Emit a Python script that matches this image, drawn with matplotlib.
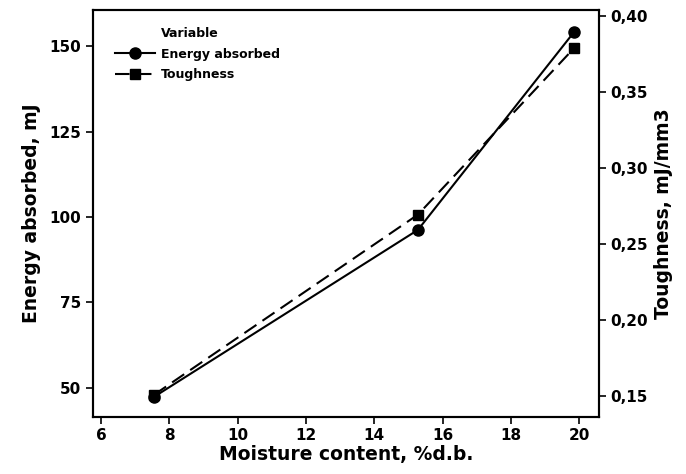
import matplotlib
matplotlib.use("Agg")
import matplotlib.pyplot as plt
from matplotlib.lines import Line2D

# datos
humedad = [7.55, 15.28, 19.85]
energia = [47.3, 96.2, 154.1]
tenacidad = [0.1507, 0.2693, 0.3788]

xticks = [6, 8, 10, 12, 14, 16, 18, 20]
yticks_izq = [50, 75, 100, 125, 150]
yticks_der = [0.15, 0.20, 0.25, 0.30, 0.35, 0.40]
etiquetas_der = ["0,15", "0,20", "0,25", "0,30", "0,35", "0,40"]

plt.rcParams['font.family'] = ['DejaVu Sans']
plt.rcParams['font.weight'] = 'bold'

fig = plt.figure(figsize=(6.86, 4.74), dpi=100)
ax = fig.add_axes([0.136, 0.121, 0.737, 0.858])
ax2 = ax.twinx()

l1, = ax.plot(humedad, energia, color='black', lw=1.5, marker='o', ms=8)
l2, = ax2.plot(humedad, tenacidad, color='black', lw=1.5, marker='s', ms=7,
               dashes=(7, 3.5))

ax.set_xlim(5.77, 20.58)
ax.set_ylim(41.5, 160.6)
ax2.set_ylim(0.1363, 0.404)

ax.set_xticks(xticks)
ax.set_yticks(yticks_izq)
ax2.set_yticks(yticks_der)
ax2.set_yticklabels(etiquetas_der)

for a in (ax, ax2):
    a.tick_params(labelsize=11, width=1.2, length=5)
    for s in a.spines.values():
        s.set_linewidth(1.5)
    for t in a.get_xticklabels() + a.get_yticklabels():
        t.set_fontweight('bold')

ax.set_xlabel("Moisture content, %d.b.", fontsize=13.5, fontweight='bold', labelpad=1)
ax.set_ylabel("Energy absorbed, mJ", fontsize=13.5, fontweight='bold', labelpad=6)
ax2.set_ylabel("Toughness, mJ/mm3", fontsize=13.5, fontweight='bold', labelpad=4)

titulo = Line2D([], [], color='none')
leg = ax2.legend([titulo, l1, l2], ["Variable", "Energy absorbed", "Toughness"],
                 loc='upper left', bbox_to_anchor=(0.02, 0.985), frameon=False,
                 prop={'size': 9, 'weight': 'bold'}, handlelength=3.2,
                 handletextpad=0.5, labelspacing=0.6)

plt.savefig("out.png", dpi=100)
